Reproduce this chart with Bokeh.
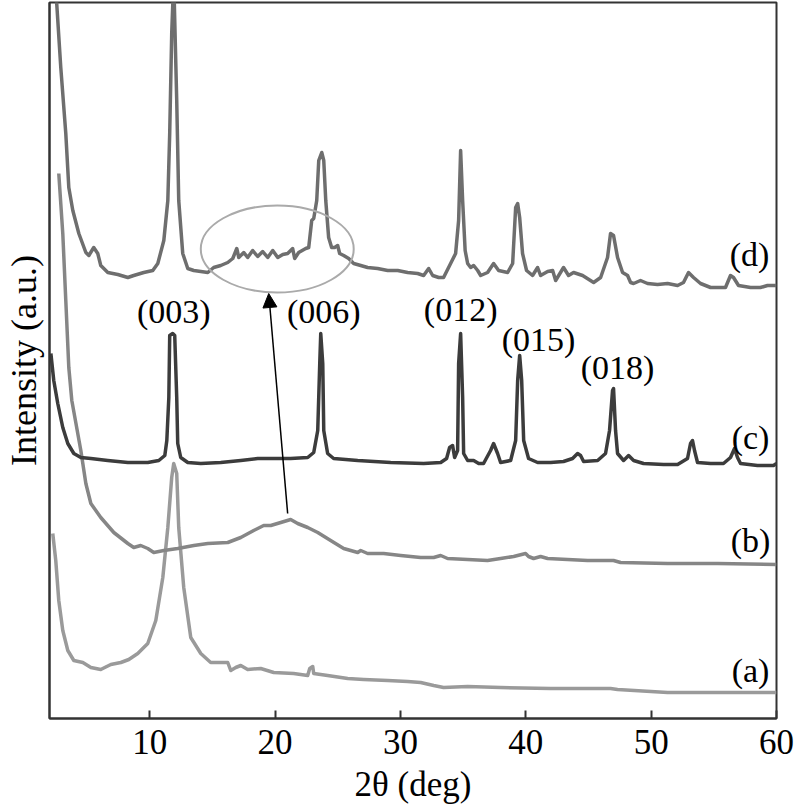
from bokeh.plotting import figure
from bokeh.models import Range1d, FixedTicker, Arrow, NormalHead
from bokeh.core.properties import value
from bokeh.embed import file_html
from bokeh.resources import INLINE

# ---- data (2theta in degrees, intensity in arbitrary units, curves offset) ----
d_x = [2.50, 2.90, 3.30, 3.54, 3.86, 4.34, 4.90, 5.14, 5.53, 5.85, 6.09, 6.65, 7.45, 8.25, 8.72, 9.52,
       10.24, 10.64, 11.12, 11.44, 11.59, 11.75, 11.91, 12.15, 12.31, 12.63, 13.03, 13.51, 14.07, 14.63,
       15.10, 15.66, 16.22, 16.62, 16.94, 17.10, 17.50, 17.81, 18.21, 18.61, 19.01, 19.41, 19.81, 20.21,
       20.61, 21.00, 21.40, 21.56, 21.88, 22.44, 22.68, 22.92, 23.08, 23.32, 23.48, 23.72, 23.88, 24.04,
       24.27, 24.51, 24.75, 24.99, 25.15, 25.47, 25.87, 26.27, 26.83, 27.38, 28.18, 28.98, 29.78, 30.57,
       31.37, 31.85, 32.25, 32.57, 33.05, 33.44, 34.00, 34.40, 34.64, 34.80, 34.96, 35.16, 35.36, 35.60,
       35.84, 36.16, 36.40, 36.95, 37.43, 37.83, 38.55, 38.95, 39.19, 39.35, 39.51, 39.74, 40.06, 40.54,
       40.94, 41.18, 41.74, 42.14, 42.38, 43.01, 43.41, 43.81, 44.53, 45.41, 45.97, 46.52, 46.76, 47.00,
       47.32, 47.72, 48.12, 48.36, 48.60, 49.15, 49.71, 50.51, 51.31, 52.11, 52.58, 52.98, 53.38, 53.94,
       54.74, 55.53, 55.93, 56.33, 56.57, 56.97, 57.93, 58.72, 59.28, 60.00]
d_y = [730, 651, 585, 531, 508, 485, 466, 463, 471, 465, 453, 446, 444, 441, 443, 446,
       448, 455, 478, 518, 585, 685, 740, 618, 518, 465, 450, 448, 447, 446,
       451, 453, 456, 460, 470, 461, 466, 461, 468, 462, 467, 461, 468, 461,
       464, 465, 470, 460, 466, 470, 471, 498, 500, 518, 558, 566, 558, 518,
       481, 471, 471, 473, 465, 463, 460, 455, 453, 451, 450, 448, 448, 446,
       445, 443, 450, 443, 441, 441, 455, 465, 498, 568, 518, 468, 455, 451,
       453, 448, 443, 446, 455, 448, 446, 455, 511, 515, 501, 465, 448, 443,
       451, 443, 447, 448, 438, 451, 443, 446, 443, 436, 441, 461, 485, 483,
       461, 446, 443, 436, 435, 438, 435, 434, 435, 433, 436, 446, 441, 435,
       431, 431, 431, 443, 441, 433, 431, 431, 433, 433]

c_x = [2.11, 2.34, 2.66, 3.06, 3.46, 3.94, 4.50, 5.30, 6.65, 8.25, 9.84, 10.72, 11.20, 11.36, 11.52,
       11.59, 11.83, 11.99, 12.15, 12.23, 12.47, 13.03, 14.07, 15.66, 17.26, 18.61, 19.89, 21.24, 22.60,
       23.08, 23.40, 23.56, 23.64, 23.80, 23.88, 24.19, 24.67, 26.59, 29.22, 31.85, 33.21, 33.68, 33.92,
       34.16, 34.32, 34.56, 34.64, 34.80, 34.96, 35.04, 35.36, 35.84, 36.24, 36.63, 37.19, 37.43, 37.75,
       37.99, 38.79, 39.19, 39.35, 39.51, 39.67, 39.83, 40.22, 40.94, 41.98, 43.01, 43.73, 44.13, 44.37,
       44.61, 45.73, 46.36, 46.68, 46.92, 47.00, 47.16, 47.32, 47.80, 48.20, 48.60, 49.39, 50.99, 52.11,
       52.90, 53.14, 53.30, 53.46, 53.70, 54.74, 55.77, 56.33, 56.65, 56.89, 57.13, 58.48, 59.76, 60.00]
c_y = [365, 338, 315, 291, 275, 265, 261, 260, 258, 256, 256, 258, 263, 278, 321,
       383, 385, 383, 321, 275, 261, 256, 255, 256, 258, 260, 260, 260, 261,
       266, 288, 355, 385, 355, 288, 265, 260, 258, 256, 255, 256, 260, 271,
       273, 261, 268, 355, 385, 321, 265, 258, 258, 255, 255, 268, 275, 265,
       256, 258, 278, 338, 363, 338, 278, 260, 256, 256, 257, 260, 265, 263,
       257, 258, 265, 288, 328, 330, 288, 265, 258, 263, 258, 255, 254, 254,
       260, 275, 278, 268, 256, 255, 255, 261, 270, 261, 255, 253, 253, 255]

b_x = [2.74, 3.06, 3.30, 3.54, 3.78, 4.50, 4.90, 5.30, 6.09, 7.13, 8.25, 8.72, 9.28, 9.84, 10.32,
       11.12, 12.23, 13.51, 14.63, 16.22, 17.26, 18.29, 19.09, 19.65, 20.45, 21.24, 21.80, 22.60, 23.40,
       24.43, 25.47, 26.59, 26.83, 27.38, 28.66, 30.02, 31.61, 32.65, 33.21, 33.76, 35.36, 36.95, 37.99,
       39.03, 39.98, 40.22, 40.62, 41.18, 41.74, 43.33, 44.93, 47.00, 47.56, 51.31, 55.30, 60.00]
b_y = [545, 485, 418, 351, 318, 268, 235, 215, 201, 186, 175, 171, 173, 170, 166,
       168, 170, 173, 175, 176, 181, 188, 193, 193, 196, 199, 195, 191, 186,
       178, 170, 166, 168, 165, 165, 163, 161, 161, 163, 160, 159, 158, 160,
       162, 165, 162, 160, 162, 160, 159, 158, 158, 156, 155, 155, 154]

a_x = [2.26, 2.50, 2.74, 3.06, 3.46, 3.94, 4.66, 5.30, 6.09, 6.89, 7.69, 8.33, 9.04, 9.84, 10.48,
       11.04, 11.44, 11.75, 11.91, 12.15, 12.31, 12.71, 13.27, 14.07, 14.86, 15.66, 16.22, 16.46, 16.86,
       17.26, 17.81, 18.85, 19.89, 21.48, 22.60, 22.76, 23.00, 23.08, 24.19, 25.79, 27.07, 28.98, 30.57,
       31.61, 32.65, 33.44, 35.36, 37.99, 41.98, 46.76, 47.32, 51.31, 55.30, 60.00]
a_y = [185, 158, 118, 88, 68, 58, 56, 51, 49, 54, 56, 59, 65, 75, 98,
       141, 191, 241, 255, 245, 191, 131, 81, 65, 56, 56, 56, 48, 51,
       53, 49, 50, 46, 45, 43, 50, 52, 45, 43, 40, 39, 38, 37,
       36, 33, 31, 32, 31, 30, 30, 29, 26, 26, 26]

x_ticks = [10, 20, 30, 40, 50, 60]
peak_labels = ["(003)", "(006)", "(012)", "(015)", "(018)"]
curve_labels = ["(d)", "(c)", "(b)", "(a)"]

# ---- placement of annotations ----
peak_label_x = [11.91, 23.88, 34.80, 41.02, 47.32]
peak_label_y = [407, 407, 409, 379, 351]
curve_label_x = [57.85, 57.93, 57.93, 57.93]
curve_label_y = [464, 281, 178, 48]

FONT = "Liberation Serif"

p = figure(width=796, height=808, x_range=Range1d(2, 60), y_range=Range1d(0, 716),
           output_backend="svg", toolbar_location=None,
           min_border_left=49, min_border_right=20, min_border_top=2, min_border_bottom=90)

p.xgrid.visible = False
p.ygrid.visible = False
p.outline_line_color = "#333333"
p.outline_line_width = 2

p.xaxis.ticker = FixedTicker(ticks=x_ticks)
p.xaxis.minor_tick_line_color = None
p.xaxis.major_tick_in = 8
p.xaxis.major_tick_out = 0
p.xaxis.major_tick_line_width = 2
p.xaxis.major_tick_line_color = "#333333"
p.xaxis.axis_line_color = "#333333"
p.xaxis.axis_line_width = 2
p.xaxis.major_label_text_font = FONT
p.xaxis.major_label_text_font_size = "35px"
p.xaxis.major_label_text_color = "black"
p.xaxis.major_label_standoff = 11
p.xaxis.axis_label = "2θ (deg)"
p.xaxis.axis_label_text_font = FONT
p.xaxis.axis_label_text_font_size = "35px"
p.xaxis.axis_label_text_font_style = "normal"
p.xaxis.axis_label_text_color = "black"
p.xaxis.axis_label_standoff = 8

p.yaxis.ticker = FixedTicker(ticks=[])
p.yaxis.minor_tick_line_color = None
p.yaxis.major_tick_line_color = None
p.yaxis.axis_line_color = "#333333"
p.yaxis.axis_line_width = 2
p.yaxis.axis_label = "Intensity (a.u.)"
p.yaxis.axis_label_text_font = FONT
p.yaxis.axis_label_text_font_size = "36px"
p.yaxis.axis_label_text_font_style = "normal"
p.yaxis.axis_label_text_color = "black"
p.yaxis.axis_label_standoff = 6

p.line(a_x, a_y, line_color="#9a9a9a", line_width=3.5, line_join="round")
p.line(b_x, b_y, line_color="#868686", line_width=3.5, line_join="round")
p.line(c_x, c_y, line_color="#3c3c3c", line_width=3.5, line_join="round")
p.line(d_x, d_y, line_color="#6e6e6e", line_width=3.5, line_join="round")

p.ellipse(x=[20.17], y=[469.5], width=[12.2], height=[87], fill_alpha=0,
          line_color="#aaaaaa", line_width=2)

p.add_layout(Arrow(end=NormalHead(size=14, fill_color="black", line_color="black"),
                   x_start=21.0, y_start=205, x_end=19.49, y_end=425,
                   line_color="black", line_width=1.5))

p.text(x=peak_label_x, y=peak_label_y, text=peak_labels, text_font=value(FONT),
       text_font_size="34px", text_align="center", text_baseline="middle", text_color="black")
p.text(x=curve_label_x, y=curve_label_y, text=curve_labels, text_font=value(FONT),
       text_font_size="34px", text_align="center", text_baseline="middle", text_color="black")

open("out.html", "w").write(file_html(p, INLINE))
